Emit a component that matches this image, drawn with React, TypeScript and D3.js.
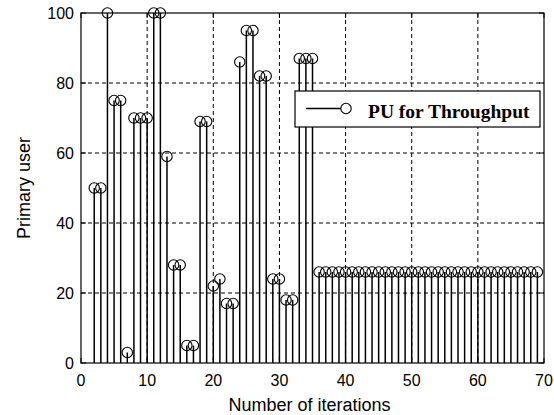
import React from "react";
import * as d3 from "d3";

const iterations = [
  2, 3, 4, 5, 6, 7, 8, 9, 10, 11, 12, 13, 14, 15, 16, 17, 18, 19, 20, 21,
  22, 23, 24, 25, 26, 27, 28, 29, 30, 31, 32, 33, 34, 35, 36, 37, 38, 39, 40,
  41, 42, 43, 44, 45, 46, 47, 48, 49, 50, 51, 52, 53, 54, 55, 56, 57, 58, 59,
  60, 61, 62, 63, 64, 65, 66, 67, 68, 69,
];
const primaryUser = [
  50, 50, 100, 75, 75, 3, 70, 70, 70, 100, 100, 59, 28, 28, 5, 5, 69, 69, 22, 24,
  17, 17, 86, 95, 95, 82, 82, 24, 24, 18, 18, 87, 87, 87, 26, 26, 26, 26, 26,
  26, 26, 26, 26, 26, 26, 26, 26, 26, 26, 26, 26, 26, 26, 26, 26, 26, 26, 26,
  26, 26, 26, 26, 26, 26, 26, 26, 26, 26,
];
const xTicks = [0, 10, 20, 30, 40, 50, 60, 70];
const yTicks = [0, 20, 40, 60, 80, 100];
const legendLabel = "PU for Throughput";
const xLabel = "Number of iterations";
const yLabel = "Primary user";

const W = 554;
const H = 415;
const left = 81;
const right = 544;
const top = 13;
const bottom = 363;

export default function App() {
  const x = d3.scaleLinear().domain([0, 70]).range([left, right]);
  const y = d3.scaleLinear().domain([0, 100]).range([bottom, top]);
  const tickFont = "'Liberation Sans', Arial, sans-serif";
  const data = iterations.map((it, i) => ({ it, v: primaryUser[i] }));
  const tl = 5;
  return (
    <svg
      width={W}
      height={H}
      style={{ position: "absolute", left: 0, top: 0, background: "#fff" }}
    >
      <rect x={0} y={0} width={W} height={H} fill="#fff" />
      {xTicks.slice(1, -1).map((t) => (
        <line
          key={"gx" + t}
          x1={x(t)}
          x2={x(t)}
          y1={top}
          y2={bottom}
          stroke="#000"
          strokeWidth={1}
          strokeDasharray="4,3"
        />
      ))}
      {yTicks.slice(1, -1).map((t) => (
        <line
          key={"gy" + t}
          x1={left}
          x2={right}
          y1={y(t)}
          y2={y(t)}
          stroke="#000"
          strokeWidth={1}
          strokeDasharray="4,3"
        />
      ))}
      {data.map((d) => (
        <line
          key={"s" + d.it}
          x1={x(d.it)}
          x2={x(d.it)}
          y1={y(0)}
          y2={y(d.v)}
          stroke="#000"
          strokeWidth={1.5}
        />
      ))}
      {data.map((d) => (
        <circle
          key={"c" + d.it}
          cx={x(d.it)}
          cy={y(d.v)}
          r={5.2}
          fill="none"
          stroke="#000"
          strokeWidth={1.1}
        />
      ))}
      {xTicks.map((t) => (
        <g key={"tx" + t}>
          <line x1={x(t)} x2={x(t)} y1={bottom} y2={bottom - tl} stroke="#000" />
          <line x1={x(t)} x2={x(t)} y1={top} y2={top + tl} stroke="#000" />
          <text
            x={x(t)}
            y={386}
            textAnchor="middle"
            fontFamily={tickFont}
            fontSize={16}
            fill="#000"
          >
            {t}
          </text>
        </g>
      ))}
      {yTicks.map((t) => (
        <g key={"ty" + t}>
          <line x1={left} x2={left + tl} y1={y(t)} y2={y(t)} stroke="#000" />
          <line x1={right} x2={right - tl} y1={y(t)} y2={y(t)} stroke="#000" />
          <text
            x={74}
            y={y(t)}
            dy="0.35em"
            textAnchor="end"
            fontFamily={tickFont}
            fontSize={16}
            fill="#000"
          >
            {t}
          </text>
        </g>
      ))}
      <rect
        x={left}
        y={top}
        width={right - left}
        height={bottom - top}
        fill="none"
        stroke="#000"
        strokeWidth={1.2}
      />
      <g>
        <rect x={295} y={91} width={245} height={36} fill="#fff" stroke="#000" strokeWidth={1.2} />
        <line x1={306} x2={341} y1={108.5} y2={108.5} stroke="#000" strokeWidth={1.3} />
        <circle cx={346} cy={108.5} r={5.2} fill="none" stroke="#000" strokeWidth={1.1} />
        <text
          x={368}
          y={118}
          fontFamily="'Liberation Serif', 'Times New Roman', serif"
          fontWeight="bold"
          fontSize={19.5}
          fill="#000"
        >
          {legendLabel}
        </text>
      </g>
      <text
        x={(left + right) / 2 - 3}
        y={411}
        textAnchor="middle"
        fontFamily={tickFont}
        fontSize={18}
        fill="#000"
      >
        {xLabel}
      </text>
      <text
        transform={`translate(30,${(top + bottom) / 2}) rotate(-90)`}
        textAnchor="middle"
        fontFamily={tickFont}
        fontSize={18}
        fill="#000"
      >
        {yLabel}
      </text>
    </svg>
  );
}
